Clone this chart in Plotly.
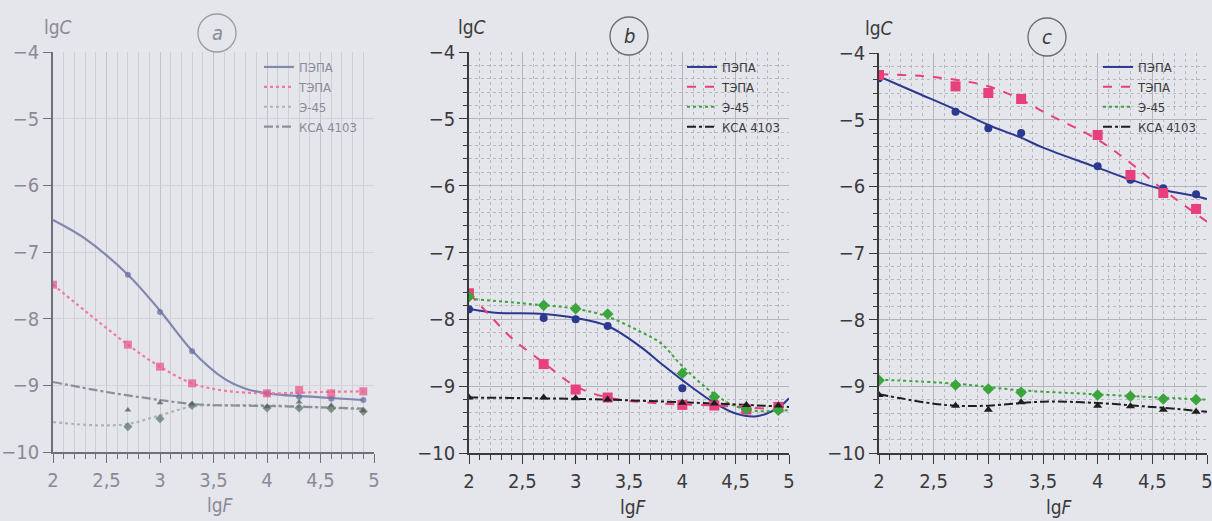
import plotly.graph_objects as go

W, H = 1212, 521

# ---------------- data ----------------
X = [2.0, 2.7, 3.0, 3.3, 4.0, 4.3, 4.6, 4.9]
NAMES = ["ПЭПА", "ТЭПА", "Э-45", "КСА 4103"]
X_TICKS = [2, 2.5, 3, 3.5, 4, 4.5, 5]
X_TICK_TEXT = ["2", "2,5", "3", "3,5", "4", "4,5", "5"]
Y_TICKS = [-4, -5, -6, -7, -8, -9, -10]
Y_TICK_TEXT = ["−4", "−5", "−6", "−7", "−8", "−9", "−10"]

# panel a (measured points)
a_pepa = [None, -7.34, -7.90, -8.49, -9.12, -9.17, -9.20, -9.22]
a_tepa = [-7.49, -8.39, -8.72, -8.97, -9.12, -9.07, -9.12, -9.09]
a_e45 = [None, -9.62, -9.50, -9.30, -9.34, -9.34, -9.35, -9.39]
a_ksa = [None, -9.37, -9.26, -9.28, -9.32, -9.25, -9.30, -9.38]
# panel a (trend curves)
a_pepa_cx = [2.0, 2.3, 2.7, 3.0, 3.3, 3.6, 3.8, 4.0, 4.5, 4.9]
a_pepa_cy = [-6.52, -6.80, -7.34, -7.88, -8.48, -8.90, -9.05, -9.12, -9.18, -9.22]
a_tepa_cx = [2.0, 2.7, 3.0, 3.3, 3.6, 4.0, 4.5, 4.9]
a_tepa_cy = [-7.49, -8.39, -8.72, -8.97, -9.08, -9.12, -9.10, -9.09]
a_e45_cx = [2.0, 2.4, 2.7, 3.0, 3.3, 3.6, 4.0, 4.5, 4.9]
a_e45_cy = [-9.55, -9.60, -9.58, -9.45, -9.32, -9.30, -9.30, -9.33, -9.36]
a_ksa_cx = [2.0, 2.5, 3.0, 3.3, 3.6, 4.0, 4.5, 4.9]
a_ksa_cy = [-8.95, -9.10, -9.22, -9.28, -9.30, -9.31, -9.33, -9.35]

# panel b (measured points)
b_pepa = [-7.85, -7.98, -8.00, -8.10, -9.03, -9.25, -9.32, -9.30]
b_tepa = [-7.61, -8.67, -9.05, -9.17, -9.28, -9.29, -9.35, -9.31]
b_e45 = [-7.66, -7.79, -7.84, -7.92, -8.81, -9.16, -9.34, -9.36]
b_ksa = [-9.17, -9.17, -9.18, -9.20, -9.25, -9.26, -9.28, -9.29]
# panel b (trend curves)
b_pepa_cx = [2.0, 2.25, 2.7, 3.0, 3.3, 3.6, 3.8, 4.0, 4.3, 4.5, 4.7, 4.9, 5.0]
b_pepa_cy = [-7.84, -7.90, -7.92, -7.98, -8.10, -8.40, -8.66, -8.91, -9.25, -9.41, -9.45, -9.32, -9.18]
b_tepa_cx = [2.0, 2.2, 2.4, 2.7, 3.0, 3.3, 3.8, 4.3, 5.0]
b_tepa_cy = [-7.61, -7.95, -8.28, -8.65, -9.00, -9.17, -9.26, -9.29, -9.36]
b_e45_cx = [2.0, 2.7, 3.0, 3.3, 3.6, 3.8, 4.0, 4.3, 4.5, 4.7, 5.0]
b_e45_cy = [-7.69, -7.79, -7.84, -7.96, -8.18, -8.36, -8.70, -9.12, -9.30, -9.37, -9.36]
b_ksa_cx = [2.0, 3.0, 4.0, 5.0]
b_ksa_cy = [-9.17, -9.19, -9.24, -9.31]

# panel c (measured points)
c_pepa = [-4.38, -4.88, -5.13, -5.20, -5.70, -5.90, -6.03, -6.12]
c_tepa = [-4.33, -4.50, -4.60, -4.69, -5.23, -5.83, -6.10, -6.34]
c_e45 = [-8.91, -8.98, -9.04, -9.09, -9.13, -9.15, -9.19, -9.20]
c_ksa = [-9.13, -9.29, -9.35, -9.24, -9.29, -9.30, -9.35, -9.38]
# panel c (trend curves)
c_pepa_cx = [2.0, 2.35, 2.7, 3.0, 3.3, 3.5, 4.0, 4.3, 4.6, 4.9, 5.0]
c_pepa_cy = [-4.35, -4.60, -4.85, -5.08, -5.27, -5.42, -5.72, -5.90, -6.05, -6.15, -6.19]
c_tepa_cx = [2.0, 2.5, 3.0, 3.3, 3.5, 4.0, 4.3, 4.6, 5.0]
c_tepa_cy = [-4.32, -4.36, -4.50, -4.70, -4.88, -5.30, -5.65, -6.05, -6.53]
c_e45_cx = [2.0, 2.7, 3.3, 4.0, 4.6, 5.0]
c_e45_cy = [-8.90, -8.96, -9.06, -9.12, -9.17, -9.20]
c_ksa_cx = [2.0, 2.2, 2.5, 2.7, 3.0, 3.5, 4.0, 4.5, 5.0]
c_ksa_cy = [-9.12, -9.18, -9.26, -9.29, -9.29, -9.23, -9.25, -9.31, -9.38]

# ---------------- styles ----------------
BG = "#e5e5ec"
FONT = "Liberation Sans Narrow, DejaVu Sans Condensed, Liberation Sans, Arial, sans-serif"
COL = ["#2b3990", "#e8407a", "#3ba53b", "#1e1e1e"]
COL_A = ["#8088b0", "#f07aa0", "#a8b8b0", "#8a9098"]
MCOL_A = ["#6a70a0", "#e85a8c", "#607868", "#505860"]
DASH = ["solid", "dash", "dot", "dashdot"]
DASH_A = ["solid", "dot", "dot", "dashdot"]
SYM = ["circle", "square", "diamond", "triangle-up"]
MSIZE = [8, 10, 9, 8]

# panel domains (pixels)
PANELS = {
    "a": dict(x0=53, x1=374, y0=52, y1=452, circ=(217, 33), lgc=(58, 27), lgf=(220, 505), lg=259),
    "b": dict(x0=469, x1=789, y0=52, y1=453, circ=(629, 36), lgc=(472, 27), lgf=(634, 507), lg=682),
    "c": dict(x0=879, x1=1207, y0=53, y1=453, circ=(1047, 37), lgc=(879, 28), lgf=(1059, 507), lg=1098),
}

def px(x):
    return x / W

def py(y):
    return 1 - y / H

fig = go.Figure()

data = {
    "a": ([a_pepa, a_tepa, a_e45, a_ksa],
          [(a_pepa_cx, a_pepa_cy), (a_tepa_cx, a_tepa_cy), (a_e45_cx, a_e45_cy), (a_ksa_cx, a_ksa_cy)]),
    "b": ([b_pepa, b_tepa, b_e45, b_ksa],
          [(b_pepa_cx, b_pepa_cy), (b_tepa_cx, b_tepa_cy), (b_e45_cx, b_e45_cy), (b_ksa_cx, b_ksa_cy)]),
    "c": ([c_pepa, c_tepa, c_e45, c_ksa],
          [(c_pepa_cx, c_pepa_cy), (c_tepa_cx, c_tepa_cy), (c_e45_cx, c_e45_cy), (c_ksa_cx, c_ksa_cy)]),
}

axis_ids = {"a": ("x", "y", "legend"), "b": ("x2", "y2", "legend2"), "c": ("x3", "y3", "legend3")}

for key, (pts, curves) in data.items():
    xa, ya, lg = axis_ids[key]
    faded = key == "a"
    cols = COL_A if faded else COL
    dashes = DASH_A if faded else DASH
    for i in range(4):
        cx, cy = curves[i]
        fig.add_trace(go.Scatter(
            x=cx, y=cy, mode="lines", name=NAMES[i], xaxis=xa, yaxis=ya, legend=lg,
            line=dict(color=cols[i], width=2 if not faded else 2.2, dash=dashes[i], shape="spline", smoothing=1.0),
            showlegend=True, hoverinfo="skip"))
    for i in range(4):
        fig.add_trace(go.Scatter(
            x=X, y=pts[i], mode="markers", xaxis=xa, yaxis=ya, showlegend=False,
            marker=dict(symbol=SYM[i], size=MSIZE[i] if not faded else MSIZE[i] - 2,
                        color=cols[i] if not faded else MCOL_A[i],
                        opacity=1 if not faded else 0.75, line=dict(width=0))))

layout = dict(
    width=W, height=H, margin=dict(l=0, r=0, t=0, b=0, pad=0, autoexpand=False),
    paper_bgcolor=BG, plot_bgcolor=BG, showlegend=True,
    font=dict(family=FONT, color="#333"),
)

def axes(key):
    p = PANELS[key]
    faded = key == "a"
    tcol = "#8a8a96" if faded else "#3a3a3a"
    lcol = "#70707a" if faded else "#3a3a3a"
    gmaj = "#c4c4cc" if faded else "#b4b4bc"
    gmin = "#cfcfd6" if faded else "#b8b8c2"
    xax = dict(
        domain=[px(p["x0"]), px(p["x1"])], range=[2, 5], tickvals=X_TICKS, ticktext=X_TICK_TEXT,
        showline=True, linecolor=lcol, linewidth=1.5, ticks="outside", ticklen=9, tickwidth=1.2,
        tickcolor=lcol, showgrid=True, gridcolor=gmaj, gridwidth=1, automargin=False,
        ticklabeloverflow="allow",
        tickfont=dict(family=FONT, size=20, color=tcol), zeroline=False, fixedrange=True,
        minor=dict(dtick=0.1, ticks="outside", ticklen=5, tickcolor=lcol, showgrid=True,
                   gridcolor=gmin, griddash="solid" if faded else "dot", gridwidth=1),
    )
    yax = dict(
        domain=[py(p["y1"]), py(p["y0"])], range=[-10, -4], tickvals=Y_TICKS, ticktext=Y_TICK_TEXT,
        showline=True, linecolor=lcol, linewidth=1.5, ticks="outside", ticklen=8, tickwidth=1.2,
        tickcolor=lcol, showgrid=True, gridcolor=gmaj if not faded else "#d4d4da", gridwidth=1,
        automargin=False, ticklabeloverflow="allow",
        tickfont=dict(family=FONT, size=20, color=tcol), zeroline=False, fixedrange=True,
        minor=dict(dtick=0.2, ticks="outside" if not faded else "", ticklen=4, tickcolor=lcol,
                   showgrid=not faded, gridcolor=gmin, griddash="dot", gridwidth=1),
    )
    return xax, yax, tcol

shapes = []
annotations = []
for key, suffix in (("a", ""), ("b", "2"), ("c", "3")):
    xax, yax, tcol = axes(key)
    if suffix:
        xax["anchor"] = "y" + suffix
        yax["anchor"] = "x" + suffix
    layout["xaxis" + suffix] = xax
    layout["yaxis" + suffix] = yax
    p = PANELS[key]
    cx, cy = p["circ"]
    r = 19
    shapes.append(dict(type="circle", xref="paper", yref="paper",
                       x0=px(cx - r), x1=px(cx + r), y0=py(cy + r), y1=py(cy - r),
                       line=dict(color="#6a6a72" if key != "a" else "#9a9aa4", width=1.3),
                       fillcolor=BG, layer="above"))
    common = dict(xref="paper", yref="paper", showarrow=False, xanchor="center", yanchor="middle")
    annotations.append(dict(text="<i>%s</i>" % key, x=px(cx), y=py(cy),
                            font=dict(family=FONT, size=20, color=tcol), **common))
    annotations.append(dict(text="lg<i>C</i>", x=px(p["lgc"][0]), y=py(p["lgc"][1]),
                            font=dict(family=FONT, size=19, color=tcol), **common))
    annotations.append(dict(text="lg<i>F</i>", x=px(p["lgf"][0]), y=py(p["lgf"][1]),
                            font=dict(family=FONT, size=19, color=tcol), **common))
    lgname = {"a": "legend", "b": "legend2", "c": "legend3"}[key]
    layout[lgname] = dict(x=px(p["lg"]), y=py(52), xanchor="left", yanchor="top",
                          bgcolor="rgba(0,0,0,0)", borderwidth=0, tracegroupgap=0,
                          itemwidth=30,
                          font=dict(family=FONT, size=13, color=tcol))

layout["shapes"] = shapes
layout["annotations"] = annotations
fig.update_layout(**layout)

post = ("document.documentElement.style.margin='0';document.body.style.margin='0';"
        "document.body.style.padding='0';document.body.style.background='%s';"
        "document.body.style.overflow='hidden';" % BG)
fig.write_html("out.html", post_script=post, config={"displayModeBar": False})
